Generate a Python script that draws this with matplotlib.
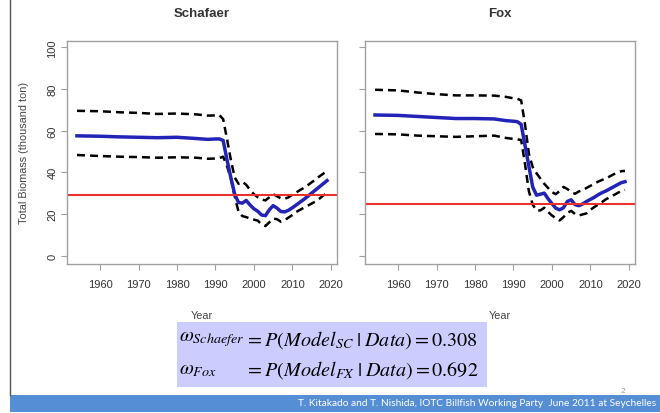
import matplotlib
matplotlib.use("Agg")
import matplotlib.pyplot as plt
from matplotlib.patches import Rectangle
from matplotlib.lines import Line2D

plt.rcParams['font.family'] = ['Liberation Sans', 'DejaVu Sans']
plt.rcParams['mathtext.fontset'] = 'stix'

years = [1954, 1960, 1965, 1970, 1975, 1980, 1985, 1988, 1990] + list(range(1991, 2020))

# Schaefer model: median biomass and interval bounds (thousand ton)
sc_mid = [57.5, 57.3, 57.0, 56.8, 56.6, 56.8, 56.2, 55.8, 56.0,
          56.0, 55.3, 46, 37.5, 29.5, 25.5, 25.2, 26.5, 24.3, 22.5, 21.3, 19.5, 19.2, 22, 24,
          22.8, 21.2, 21.0, 21.8, 23, 24.3, 25.7, 27, 28.5, 30, 31.5, 33, 34.5, 36]
sc_hi = [69.5, 69.3, 68.8, 68.5, 68.0, 68.2, 67.8, 67.2, 67.3,
         67.5, 65.5, 56, 46, 37.5, 34.5, 35.5, 34, 31.5, 29.5, 28, 27, 26.5, 28, 29.5,
         28.5, 27.5, 27.3, 28, 29.3, 30.3, 31.5, 32.5, 33.8, 35.2, 36.5, 38, 39.3, 40.7]
sc_lo = [48.3, 47.8, 47.5, 47.3, 47.0, 47.2, 47.0, 46.5, 46.6,
         46.8, 47.5, 43, 37, 28.5, 21, 19, 18.5, 17.8, 17.3, 16.8, 15, 14.2, 16, 17.8,
         17.5, 16.3, 17, 18.3, 19.5, 21, 22, 23, 24, 25, 26, 27.3, 28.8, 30]
sc_ref = 29

# Fox model
fx_mid = [67.5, 67.3, 66.8, 66.3, 65.8, 65.8, 65.6, 64.8, 64.5,
          64.3, 63, 53, 43, 33, 29, 29.5, 30, 27.3, 25, 22.8, 22, 23, 26, 26.8,
          24.5, 24, 24.8, 26, 27, 28, 29.2, 30.2, 31, 32, 33, 34, 35, 35.5]
fx_hi = [79.6, 79.3, 78.3, 77.5, 76.9, 76.9, 76.8, 76.2, 75.5,
         75.3, 74.5, 63, 49, 42.5, 39.5, 37, 34.5, 32.5, 30.5, 29.5, 31, 33, 32, 30.5,
         29.7, 30.8, 31.5, 32.5, 33.5, 34.5, 35.5, 36.3, 37, 38, 39, 39.8, 40.5, 40.7]
fx_lo = [58.4, 58.2, 57.6, 57.3, 57.0, 57.3, 57.6, 56.5, 56.0,
         55.8, 55.5, 44, 31, 24.5, 21.7, 21.7, 23, 21, 19.3, 18, 16.9, 18.5, 20.5, 21.5,
         20, 19.3, 19.8, 20.3, 22, 23.3, 24.5, 25.7, 27, 28, 29, 30, 31, 31.5]
fx_ref = 25

titles = ['Schafaer', 'Fox']
weights = [('Schaefer', 'SC', '0.308'), ('Fox', 'FX', '0.692')]
footer = 'T. Kitakado and T. Nishida, IOTC Billfish Working Party  June 2011 at Seychelles'

W, H = 660, 414


def px(x, y):
    return x / W, 1 - y / H


fig = plt.figure(figsize=(W / 100, H / 100), dpi=100)

# slide frame: left rule and footer bar
fig.add_artist(Line2D([10 / W, 10 / W], [1 - 396 / H, 1], color='#555555', lw=1))
fig.add_artist(Rectangle(px(10, 413), (W - 10) / W, 17 / H, color='#558ed5', lw=0))
fig.text(*px(656, 404), footer, color='white', fontsize=7.3, family=['Lato', 'DejaVu Sans'],
         ha='right', va='center')
fig.text(*px(623, 392), '2', color='#999999', fontsize=6, ha='center', va='center')

dash = (0, (3.2, 2.0))
panels = [
    (67, titles[0], sc_mid, sc_hi, sc_lo, sc_ref),
    (365, titles[1], fx_mid, fx_hi, fx_lo, fx_ref),
]
for i, (x0, title, mid, hi, lo, ref) in enumerate(panels):
    l, b = px(x0, 265)
    ax = fig.add_axes([l, b, 270 / W, 223 / H])
    ax.plot(years, hi, color='black', lw=1.8, ls=dash)
    ax.plot(years, lo, color='black', lw=1.8, ls=dash)
    ax.plot(years, mid, color='#2323b8', lw=2.5)
    ax.axhline(ref, color='#e8302c', lw=1.5)
    ax.set_xlim(1951.4, 2021.6)
    ax.set_ylim(-4, 103)
    ax.set_xticks(range(1960, 2021, 10))
    ax.set_yticks(range(0, 101, 20))
    for s in ax.spines.values():
        s.set_color('#a0a0a0')
        s.set_linewidth(1)
    ax.tick_params(colors='#a0a0a0', labelcolor='#333333', length=4, labelsize=8)
    ax.tick_params(axis='x', pad=7)
    ax.tick_params(axis='y', pad=3)
    if i == 0:
        for t in ax.get_yticklabels():
            t.set_rotation(90)
            t.set_va('center')
        ax.set_ylabel('Total Biomass (thousand ton)', fontsize=7.8, color='#444444', labelpad=13)
    else:
        ax.set_yticklabels([])
    fig.text(*px(x0 + 135, 14), title, fontsize=9.5, fontweight='bold', color='#333333',
             ha='center', va='center')
    fig.text(*px(x0 + 135, 316), 'Year', fontsize=7.8, color='#444444', ha='center', va='center')

# posterior model weights
fig.add_artist(Rectangle(px(177, 388), 310 / W, 65 / H, color='#ccccff', lw=0))
for row, (name, code, w) in enumerate(weights):
    y = 340 + row * 30
    fig.text(*px(179, y), r'$\omega_{%s}$' % name, fontsize=14.5, va='center', ha='left')
    fig.text(*px(245, y), r'$=P(Model_{%s}\;|\;Data) =%s$' % (code, w), fontsize=14.5,
             va='center', ha='left')

fig.savefig('out.png', dpi=100, facecolor='white')
